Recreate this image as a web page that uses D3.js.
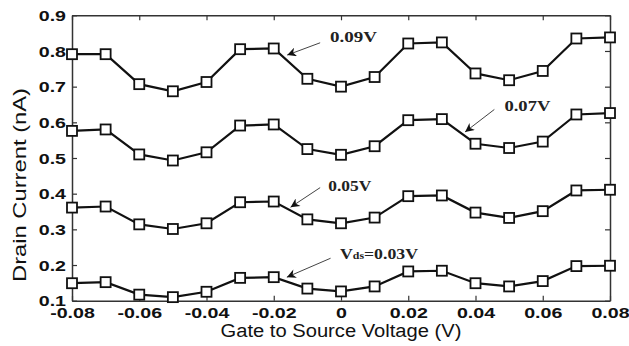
<!DOCTYPE html>
<html><head><meta charset="utf-8">
<script src="https://cdn.jsdelivr.net/npm/d3@7"></script>
<style>body{margin:0;background:#fff}svg{display:block}</style>
</head><body>
<svg id="c" width="629" height="346"></svg>
<script>
const vgs = [-0.08,-0.07,-0.06,-0.05,-0.04,-0.03,-0.02,-0.01,0,0.01,0.02,0.03,0.04,0.05,0.06,0.07,0.08];
const i09 = [0.791,0.791,0.707,0.687,0.713,0.805,0.807,0.722,0.700,0.727,0.821,0.824,0.737,0.718,0.744,0.835,0.838];
const i07 = [0.576,0.580,0.510,0.493,0.516,0.591,0.594,0.525,0.509,0.533,0.606,0.609,0.540,0.528,0.546,0.622,0.626];
const i05 = [0.361,0.364,0.314,0.301,0.317,0.376,0.378,0.328,0.317,0.333,0.393,0.395,0.347,0.332,0.351,0.409,0.411];
const i03 = [0.149,0.152,0.117,0.110,0.125,0.164,0.166,0.134,0.126,0.140,0.182,0.184,0.149,0.140,0.155,0.197,0.198];
const xTicks = [-0.08,-0.06,-0.04,-0.02,0,0.02,0.04,0.06,0.08];
const xTickLabels = ["-0.08","-0.06","-0.04","-0.02","0","0.02","0.04","0.06","0.08"];
const yTicks = [0.1,0.2,0.3,0.4,0.5,0.6,0.7,0.8,0.9];
const yTickLabels = ["0.1","0.2","0.3","0.4","0.5","0.6","0.7","0.8","0.9"];
const series = [i09, i07, i05, i03];
// annotation: label, text anchor, arrow tail, arrow tip (data units)
const annLabels = ["0.09V","0.07V","0.05V","0.03V"];
const annText = [[-0.0033,0.826],[0.0486,0.632],[-0.0038,0.407],[-0.0003,0.218]];
const annTail = [[-0.0062,0.823],[0.0456,0.636],[-0.0062,0.417],[-0.0031,0.219]];
const annTip  = [[-0.016,0.7885],[0.0369,0.573],[-0.015,0.362],[-0.0161,0.166]];
const annWidth = [47,46,43,78];

const svg = d3.select("#c");
const L=72, R=610, T=15.3, B=300.7;
const x = d3.scaleLinear().domain([-0.08,0.08]).range([L,R]);
const y = d3.scaleLinear().domain([0.1,0.9]).range([B,T]);

const stretch = 1.4;
function widen(sel){ sel.each(function(){ const w=this.getComputedTextLength(); d3.select(this).attr("textLength",w*stretch).attr("lengthAdjust","spacingAndGlyphs"); }); }

const gx = svg.append("g").attr("transform",`translate(0,${B})`)
  .call(d3.axisBottom(x).tickValues(xTicks).tickFormat((d,i)=>xTickLabels[i]).tickSize(-5).tickSizeOuter(0).tickPadding(7));
const gy = svg.append("g").attr("transform",`translate(${L},0)`)
  .call(d3.axisLeft(y).tickValues(yTicks).tickFormat((d,i)=>yTickLabels[i]).tickSize(-5).tickSizeOuter(0).tickPadding(6));
const gt = svg.append("g").attr("transform",`translate(0,${T})`)
  .call(d3.axisTop(x).tickValues(xTicks).tickFormat("").tickSize(-5).tickSizeOuter(0));
const gr = svg.append("g").attr("transform",`translate(${R},0)`)
  .call(d3.axisRight(y).tickValues(yTicks).tickFormat("").tickSize(-5).tickSizeOuter(0));
[gx,gy,gt,gr].forEach(g=>{
  g.selectAll(".domain").attr("stroke","#333").attr("stroke-width",1.5);
  g.selectAll(".tick line").attr("stroke","#333").attr("stroke-width",1.2);
  g.selectAll("text").attr("font-family","Liberation Sans, Arial, sans-serif").attr("font-weight","bold").attr("font-size",14).attr("fill","#111");
});
widen(gx.selectAll("text"));
widen(gy.selectAll("text"));
gy.selectAll("text").attr("dy","0.36em");

const line = d3.line().x((d,i)=>x(vgs[i])).y(d=>y(d));
series.forEach(s=>{
  svg.append("path").datum(s).attr("d",line).attr("fill","none").attr("stroke","#111").attr("stroke-width",2.2);
  svg.append("g").selectAll("rect").data(s).join("rect")
    .attr("x",(d,i)=>x(vgs[i])-5).attr("y",d=>y(d)-5).attr("width",10).attr("height",10)
    .attr("fill","#fff").attr("stroke","#111").attr("stroke-width",1.8);
});

// annotations
const defs = svg.append("defs");
defs.append("marker").attr("id","ah").attr("viewBox","0 0 10 10").attr("refX",10).attr("refY",5)
  .attr("markerWidth",12).attr("markerHeight",9).attr("markerUnits","userSpaceOnUse").attr("orient","auto")
  .append("path").attr("d","M0,0 L10,5 L0,10 L3,5 Z").attr("fill","#111");
annLabels.forEach((lab,i)=>{
  svg.append("line").attr("x1",x(annTail[i][0])).attr("y1",y(annTail[i][1]))
    .attr("x2",x(annTip[i][0])).attr("y2",y(annTip[i][1]))
    .attr("stroke","#444").attr("stroke-width",1).attr("marker-end","url(#ah)");
  const t = svg.append("text").attr("x",x(annText[i][0])).attr("y",y(annText[i][1]))
    .attr("font-family","Liberation Serif, Times New Roman, serif").attr("font-weight","bold").attr("font-size",15).attr("fill","#222")
    .attr("textLength",annWidth[i]).attr("lengthAdjust","spacingAndGlyphs");
  if(i===3){
    t.append("tspan").text("V");
    t.append("tspan").attr("font-size",10).text("ds");
    t.append("tspan").text("=" + lab);
  } else t.text(lab);
});

svg.append("text").attr("x",(L+R)/2).attr("y",337).attr("text-anchor","middle")
  .attr("font-family","Liberation Sans, Arial, sans-serif").attr("font-size",18).attr("fill","#111")
  .attr("textLength",241).attr("lengthAdjust","spacingAndGlyphs").text("Gate to Source Voltage (V)");
svg.append("text").attr("transform",`translate(26,${(88+282)/2}) rotate(-90)`).attr("text-anchor","middle")
  .attr("font-family","Liberation Sans, Arial, sans-serif").attr("font-size",18).attr("fill","#111")
  .attr("textLength",194).attr("lengthAdjust","spacingAndGlyphs").text("Drain Current (nA)");
</script>
</body></html>
